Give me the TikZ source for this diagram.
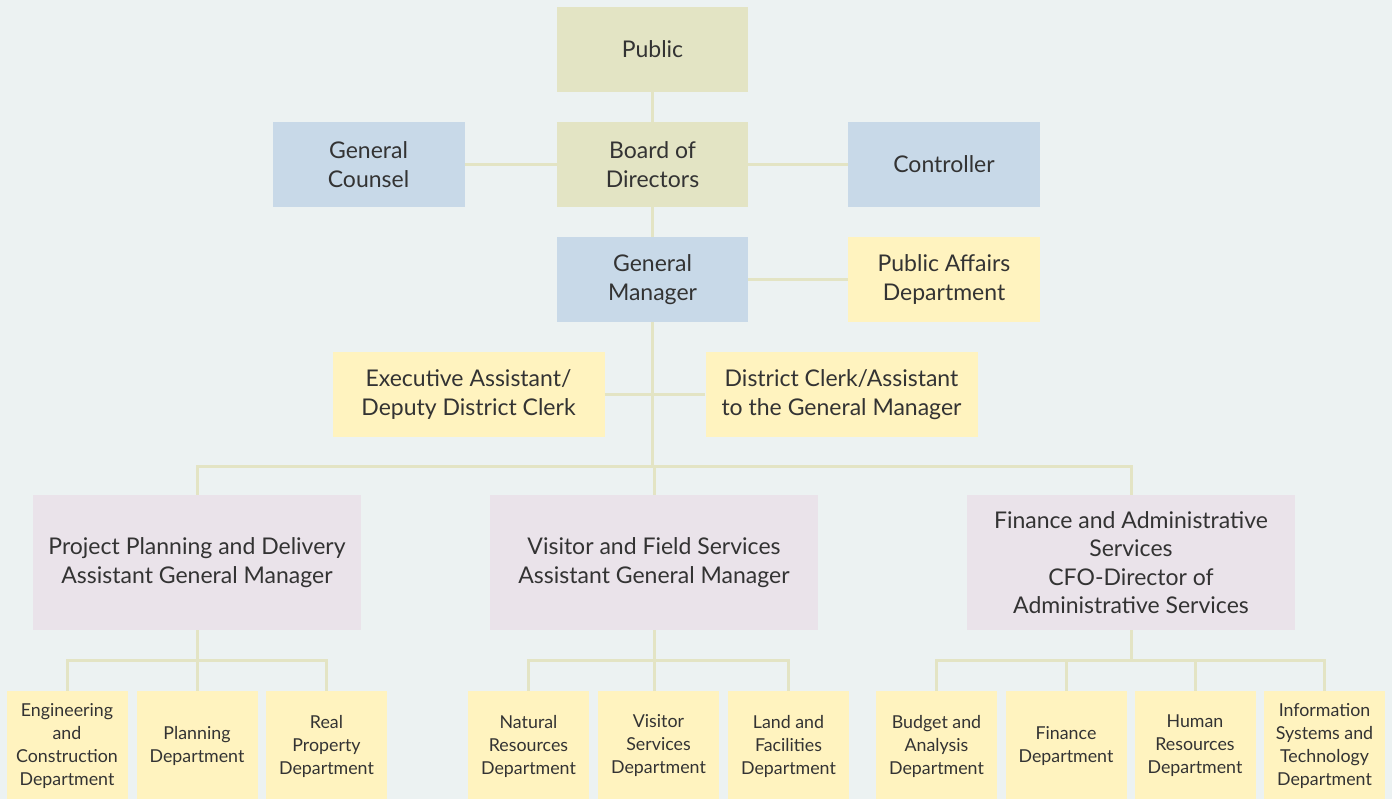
\documentclass[tikz,border=0pt]{standalone}
\usepackage{fontspec}
\setmainfont{Lato}
\usepackage{xcolor}
\usepackage{tikz}
\usetikzlibrary{positioning}
\definecolor{bg}{HTML}{ECF2F2}
\definecolor{olivebox}{HTML}{E3E4C4}
\definecolor{bluebox}{HTML}{C8D9E8}
\definecolor{yelbox}{HTML}{FFF3BF}
\definecolor{mauvebox}{HTML}{EAE3EA}
\definecolor{link}{HTML}{E3E4C4}
\definecolor{ink}{HTML}{333333}
\tikzset{
  box/.style={inner sep=0pt, align=center, text=ink, font=\fontsize{23}{28.5}\selectfont},
  boardbox/.style={box, fill=olivebox, minimum width=191, minimum height=85},
  staffbox/.style={box, fill=bluebox, minimum width=192, minimum height=85},
  unitbox/.style={box, fill=yelbox, minimum width=192, minimum height=85},
  clerkbox/.style={box, fill=yelbox, minimum width=272, minimum height=85},
  agmbox/.style={box, fill=mauvebox, minimum width=328, minimum height=135},
  deptbox/.style={box, fill=yelbox, minimum width=121, minimum height=110,
    font=\fontsize{17.8}{23}\selectfont},
  conn/.style={draw=link, line width=3pt},
}

\begin{document}
\begin{tikzpicture}[x=1pt, y=-1pt]
  \fill[bg] (0,0) rectangle (1392,799);
  \useasboundingbox (0,0) rectangle (1392,799);

  % top of the chart
  \node[boardbox] (pub) at (652.5,49.5) {Public};
  \node[boardbox] (board) at (652.5,164.5) {Board of\\Directors};
  \node[staffbox] (counsel) at (368.5,164.5) {General\\Counsel};
  \node[staffbox] (ctrl) at (944,164.5) {Controller};
  \node[staffbox, minimum width=191] (gm) at (652.5,279.5) {General\\Manager};
  \node[unitbox] (pad) at (944,279.5) {Public Affairs\\Department};
  \node[clerkbox] (exec) at (468.5,394.5) {Executive Assistant/\\Deputy District Clerk};
  \node[clerkbox] (clerk) at (841.5,394.5) {District Clerk/Assistant\\to the General Manager};

  % assistant general managers
  \node[agmbox] (ppd) at (197,562.5) {Project Planning and Delivery\\Assistant General Manager};
  \node[agmbox] (vfs) at (654,562.5) {Visitor and Field Services\\Assistant General Manager};
  \node[agmbox] (fas) at (1131,562.5) {Finance and Administrative\\Services\\CFO-Director of\\Administrative Services};

  % departments
  \node[deptbox] (eng) at (67,746) {Engineering\\and\\Construction\\Department};
  \node[deptbox] (plan) at (197,746) {Planning\\Department};
  \node[deptbox] (real) at (326.5,746) {Real\\Property\\Department};
  \node[deptbox] (nat) at (528.5,746) {Natural\\Resources\\Department};
  \node[deptbox] (visit) at (658.5,746) {Visitor\\Services\\Department};
  \node[deptbox] (land) at (788.5,746) {Land and\\Facilities\\Department};
  \node[deptbox] (budget) at (936.5,746) {Budget and\\Analysis\\Department};
  \node[deptbox] (fin) at (1066,746) {Finance\\Department};
  \node[deptbox] (hr) at (1195,746) {Human\\Resources\\Department};
  \node[deptbox] (ist) at (1324.5,746) {Information\\Systems and\\Technology\\Department};

  \coordinate (busL) at (197,466);
  \coordinate (busM) at (652.5,466);
  \coordinate (busR) at (1131,466);

  % connectors
  \draw[conn] (pub) -- (board);
  \draw[conn] (counsel) -- (board);
  \draw[conn] (board) -- (ctrl);
  \draw[conn] (board) -- (gm);
  \draw[conn] (gm) -- (pad);
  \draw[conn] (exec) -- (clerk);
  \draw[conn] (gm.south) -- (busM);
  \draw[conn] (ppd.north) -- (busL) -- (busR) -- (fas.north);
  \draw[conn] (vfs.north) -- (vfs.north |- busM);

  \draw[conn] (eng.north) -- ++(0,-30) -| (real.north);
  \draw[conn] (ppd.south) -- (plan.north);
  \draw[conn] (nat.north) -- ++(0,-30) -| (land.north);
  \draw[conn] (vfs.south) -- (vfs.south |- visit.north);
  \draw[conn] (budget.north) -- ++(0,-30) -| (ist.north);
  \draw[conn] (fas.south) -- (fas.south |- 0,661);
  \draw[conn] (fin.north) -- (fin.north |- 0,661);
  \draw[conn] (hr.north) -- (hr.north |- 0,661);
\end{tikzpicture}
\end{document}
